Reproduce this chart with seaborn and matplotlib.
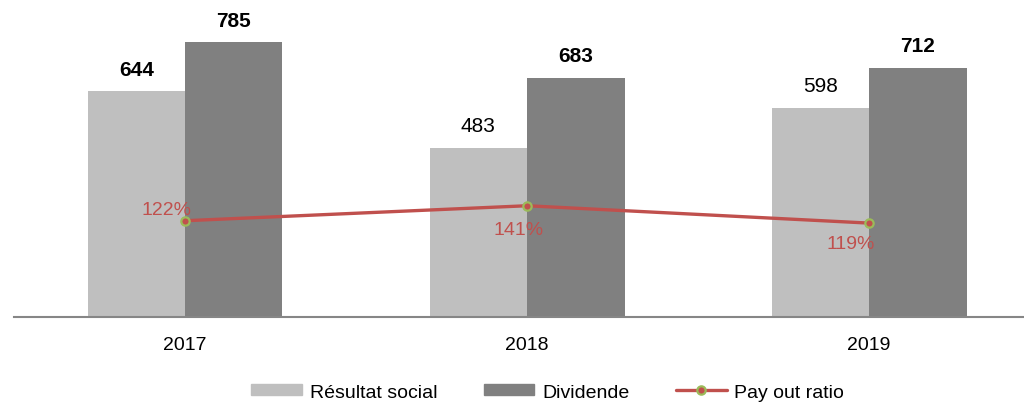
import pandas as pd
import matplotlib.pyplot as plt
import seaborn as sns
from matplotlib.patches import Patch
from matplotlib.lines import Line2D

# donnees
annees = ["2017", "2018", "2019"]
resultat_social = [644, 483, 598]
dividende = [785, 683, 712]
payout = [122, 141, 119]

sns.set_theme(style="white")
plt.rcParams['font.family'] = ['Liberation Sans Narrow', 'Liberation Sans', 'DejaVu Sans']
plt.rcParams['text.color'] = 'black'
plt.rcParams['xtick.color'] = 'black'

df = pd.DataFrame({
    'Annee': annees * 2,
    'Valeur': resultat_social + dividende,
    'Serie': ['Résultat social'] * 3 + ['Dividende'] * 3,
})

fig = plt.figure(figsize=(10.24, 4.06), dpi=100)
ax = fig.add_axes([14 / 1024, 88 / 406, 1 - 14 / 1024, 318 / 406])

couleurs = {'Résultat social': '#BFBFBF', 'Dividende': '#808080'}
sns.barplot(data=df, x='Annee', y='Valeur', hue='Serie', palette=couleurs,
            width=0.57, gap=0, saturation=1, linewidth=0, ax=ax, legend=False)

gras = [[True, False, False], [True, True, True]]
for i, cont in enumerate(ax.containers):
    labels = ax.bar_label(cont, fmt='%d', padding=9, fontsize=15, color='black')
    for t, b in zip(labels, gras[i]):
        t.set_fontweight('bold' if b else 'normal')

ax.set_ylim(0, 908)
ax.set_xlim(-0.5, 2.453)
ax.set_xlabel('')
ax.set_ylabel('')
ax.set_yticks([])
for s in ['left', 'right', 'top']:
    ax.spines[s].set_visible(False)
ax.spines['bottom'].set_color('#868686')
ax.spines['bottom'].set_linewidth(1.5)
ax.tick_params(axis='x', length=0, pad=14, labelsize=14, labelcolor='black')

# pay out ratio, axe secondaire
ax2 = ax.twinx()
sns.lineplot(x=[0, 1, 2], y=payout, ax=ax2, color='#C0504D', linewidth=2.4,
             marker='o', markersize=6, markerfacecolor='#C0504D',
             markeredgecolor='#9BBB59', markeredgewidth=1.6)
ax2.set_ylim(0, 403)
ax2.set_yticks([])
for s in ['left', 'right', 'top', 'bottom']:
    ax2.spines[s].set_visible(False)

decalages = [(-13, 8), (-6, -17), (-13, -15)]
for x, v, d in zip([0, 1, 2], payout, decalages):
    ax2.annotate(f"{v}%", (x, v), xytext=d, textcoords='offset points',
                 ha='center', va='center', color='#C0504D', fontsize=14)

handles = [
    Patch(color='#BFBFBF', label='Résultat social'),
    Patch(color='#808080', label='Dividende'),
    Line2D([0], [0], color='#C0504D', linewidth=2.4, marker='o', markersize=6,
           markerfacecolor='#C0504D', markeredgecolor='#9BBB59', markeredgewidth=1.6,
           label='Pay out ratio'),
]
fig.legend(handles=handles, loc='center', bbox_to_anchor=(0.535, 0.032), ncol=3,
           frameon=False, fontsize=14, handlelength=2.6, handleheight=0.5,
           columnspacing=2.4, handletextpad=0.4)

fig.savefig('out.png', dpi=100)
